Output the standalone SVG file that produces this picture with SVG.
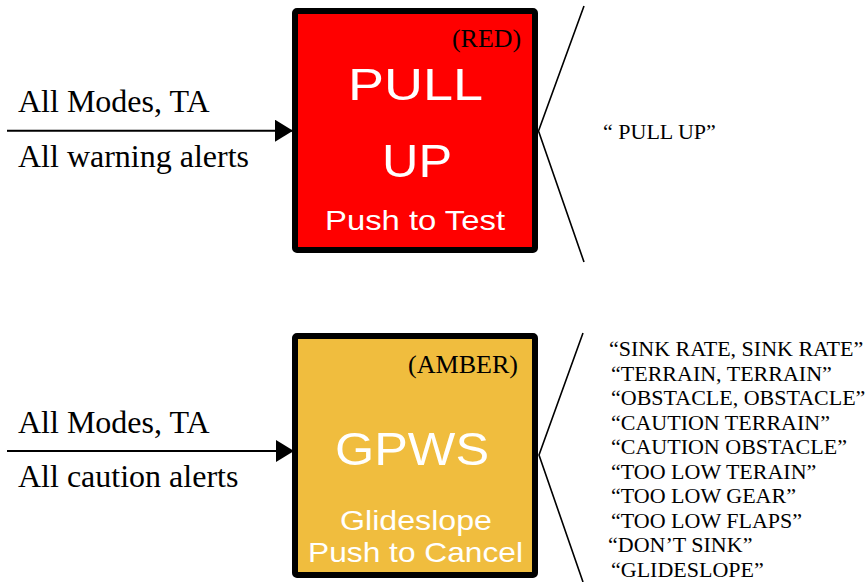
<svg xmlns="http://www.w3.org/2000/svg" width="868" height="582" viewBox="0 0 868 582">
<defs>
<style>
.serif{font-family:"Liberation Serif","Times New Roman",serif;fill:#000}
.lbl{font-size:32px}
.msg{font-size:22px}
.tag{font-size:25px}
.sans{font-family:"Liberation Sans",Arial,sans-serif;fill:#fff}
.box{stroke:#000;stroke-width:6}
.conn{stroke:#000;stroke-width:2;fill:none}
.fan{stroke:#000;stroke-width:1.6;fill:none}
</style>
<marker id="arr" markerUnits="userSpaceOnUse" markerWidth="18" markerHeight="22" refX="18" refY="11" orient="auto">
<path d="M0,0 L18,11 L0,22 Z" fill="#000"/>
</marker>
</defs>
<rect width="868" height="582" fill="#fff"/>
<g id="connectors">
<line class="conn" x1="7" y1="130.7" x2="293" y2="130.7" marker-end="url(#arr)"/>
<line class="conn" x1="7" y1="451" x2="294" y2="451" marker-end="url(#arr)"/>
<polyline class="fan" points="584,6 538.5,131 584,262"/>
<polyline class="fan" points="583,333 539,455 583,582"/>
</g>
<g id="inputs-top">
<text class="serif lbl" x="18" y="112">All Modes, TA</text>
<text class="serif lbl" x="18" y="167">All warning alerts</text>
</g>
<g id="inputs-bottom">
<text class="serif lbl" x="18" y="433">All Modes, TA</text>
<text class="serif lbl" x="18" y="487">All caution alerts</text>
</g>
<g id="pullup">
<rect class="box" x="295" y="11" width="240" height="239" rx="2" fill="#ff0000"/>
<text class="serif tag" x="452" y="47" textLength="69" lengthAdjust="spacingAndGlyphs">(RED)</text>
<text class="sans" x="348" y="100" font-size="45" textLength="135" lengthAdjust="spacingAndGlyphs">PULL</text>
<text class="sans" x="382" y="177" font-size="47" textLength="70" lengthAdjust="spacingAndGlyphs">UP</text>
<text class="sans" x="325" y="230" font-size="28" textLength="180" lengthAdjust="spacingAndGlyphs">Push to Test</text>
</g>
<g id="gpws">
<rect class="box" x="295" y="336" width="240" height="239" rx="2" fill="#f0bd3e"/>
<text class="serif tag" x="408" y="373" textLength="110" lengthAdjust="spacingAndGlyphs">(AMBER)</text>
<text class="sans" x="335" y="465" font-size="46" textLength="154" lengthAdjust="spacingAndGlyphs">GPWS</text>
<text class="sans" x="340" y="530" font-size="27" textLength="152" lengthAdjust="spacingAndGlyphs">Glideslope</text>
<text class="sans" x="308" y="562" font-size="28" textLength="215" lengthAdjust="spacingAndGlyphs">Push to Cancel</text>
</g>
<g id="voice-top">
<text class="serif msg" x="603" y="139">“ PULL UP”</text>
</g>
<g id="voice-bottom">
<text class="serif msg" x="609" y="356">“SINK RATE, SINK RATE”</text>
<text class="serif msg" x="611" y="380.5">“TERRAIN, TERRAIN”</text>
<text class="serif msg" x="611" y="405">“OBSTACLE, OBSTACLE”</text>
<text class="serif msg" x="611" y="429.5">“CAUTION TERRAIN”</text>
<text class="serif msg" x="611" y="454">“CAUTION OBSTACLE”</text>
<text class="serif msg" x="611" y="478.5">“TOO LOW TERAIN”</text>
<text class="serif msg" x="611" y="503">“TOO LOW GEAR”</text>
<text class="serif msg" x="611" y="527.5">“TOO LOW FLAPS”</text>
<text class="serif msg" x="608" y="552">“DON’T SINK”</text>
<text class="serif msg" x="611" y="576.5">“GLIDESLOPE”</text>
</g>
</svg>
